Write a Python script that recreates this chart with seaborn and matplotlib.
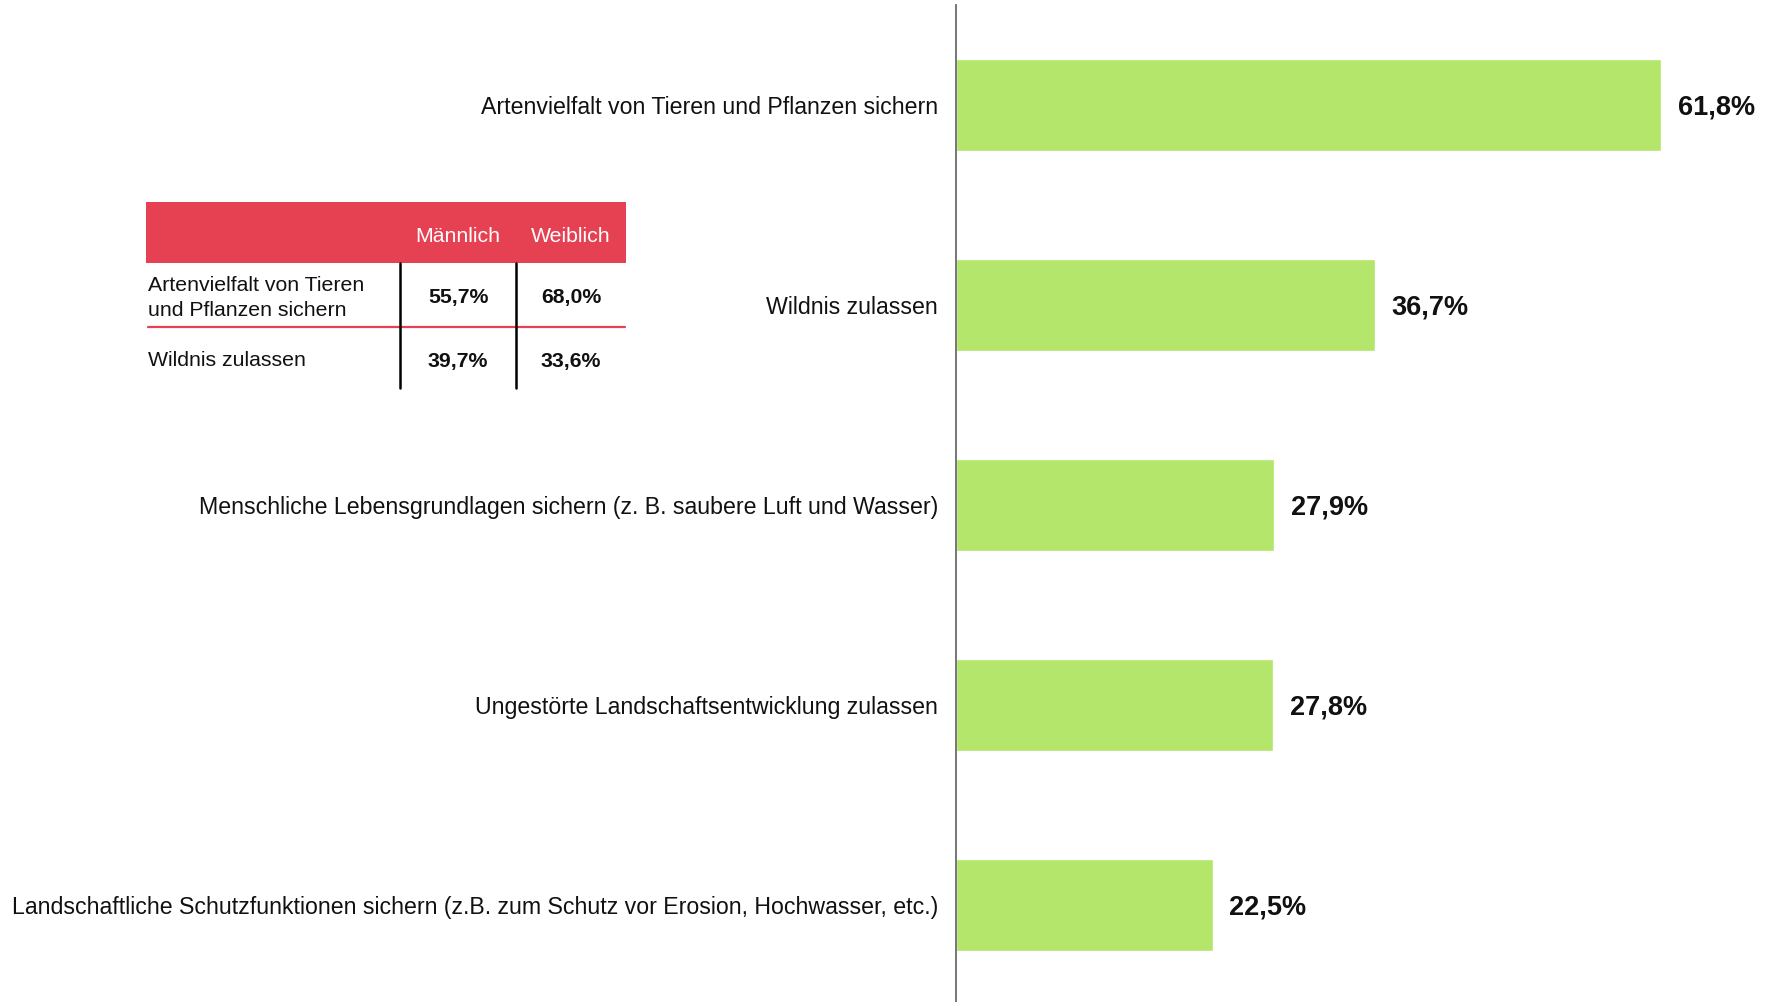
import matplotlib
matplotlib.use("Agg")
import matplotlib.pyplot as plt
import seaborn as sns
import pandas as pd
from matplotlib.patches import Rectangle

# chart data
categories = [
    "Artenvielfalt von Tieren und Pflanzen sichern",
    "Wildnis zulassen",
    "Menschliche Lebensgrundlagen sichern (z. B. saubere Luft und Wasser)",
    "Ungestörte Landschaftsentwicklung zulassen",
    "Landschaftliche Schutzfunktionen sichern (z.B. zum Schutz vor Erosion, Hochwasser, etc.)",
]
values = [61.8, 36.7, 27.9, 27.8, 22.5]

# inset table data
table_header = ["Männlich", "Weiblich"]
table_rows = ["Artenvielfalt von Tieren\nund Pflanzen sichern", "Wildnis zulassen"]
table_male = [55.7, 39.7]
table_female = [68.0, 33.6]

BAR_COLOR = "#B3E66A"
RED = "#E64152"


def pct(v):
    return f"{v:.1f}%".replace(".", ",")


sns.set_theme(style="white")
plt.rcParams["font.family"] = ["Liberation Sans", "DejaVu Sans"]

W, H = 1772, 1002
fig = plt.figure(figsize=(W / 100, H / 100), dpi=100)
fig.patch.set_facecolor("white")

ax = fig.add_axes([956 / W, 0.0, 1 - 956 / W, 1 - 5 / H])
df = pd.DataFrame({"cat": categories, "val": values})
sns.barplot(data=df, x="val", y="cat", orient="h", color=BAR_COLOR,
            saturation=1, width=0.46, ax=ax)
ax.set_xlim(0, 71.5)
ax.set_ylim(4.485, -0.5)
ax.set_xlabel("")
ax.set_ylabel("")
ax.set_xticks([])
for s in ["top", "right", "bottom"]:
    ax.spines[s].set_visible(False)
ax.spines["left"].set_color("#6b6b6b")
ax.spines["left"].set_linewidth(1.3)
ax.tick_params(axis="y", length=0, pad=13, labelsize=16.7, labelcolor="#111111")

for i, v in enumerate(values):
    ax.annotate(pct(v), xy=(v, i), xytext=(12, -1.5), textcoords="offset points",
                ha="left", va="center", fontsize=19.5, fontweight="bold",
                color="#111111")

# inset table drawn in pixel coordinates on an overlay axes
ov = fig.add_axes([0, 0, 1, 1], zorder=5)
ov.set_xlim(0, W)
ov.set_ylim(H, 0)
ov.axis("off")
ov.patch.set_alpha(0)

ov.add_patch(Rectangle((146, 202), 480, 61, color=RED, lw=0))
col_x = [458, 571]
for x, t in zip(col_x, table_header):
    ov.text(x, 236, t, ha="center", va="center", color="white", fontsize=15.3)

row_y = [298, 361]
for y, name, m, f in zip(row_y, table_rows, table_male, table_female):
    ov.text(148, y, name, ha="left", va="center", fontsize=15.3,
            color="#111111", linespacing=1.4)
    ov.text(col_x[0], y, pct(m), ha="center", va="center", fontsize=15.3,
            fontweight="bold", color="#111111")
    ov.text(col_x[1], y, pct(f), ha="center", va="center", fontsize=15.3,
            fontweight="bold", color="#111111")

ov.plot([148, 625], [327, 327], color=RED, lw=1.6)
for x in [400, 516]:
    ov.plot([x, x], [263, 388], color="black", lw=1.8)

fig.savefig("out.png", dpi=100, facecolor="white")
